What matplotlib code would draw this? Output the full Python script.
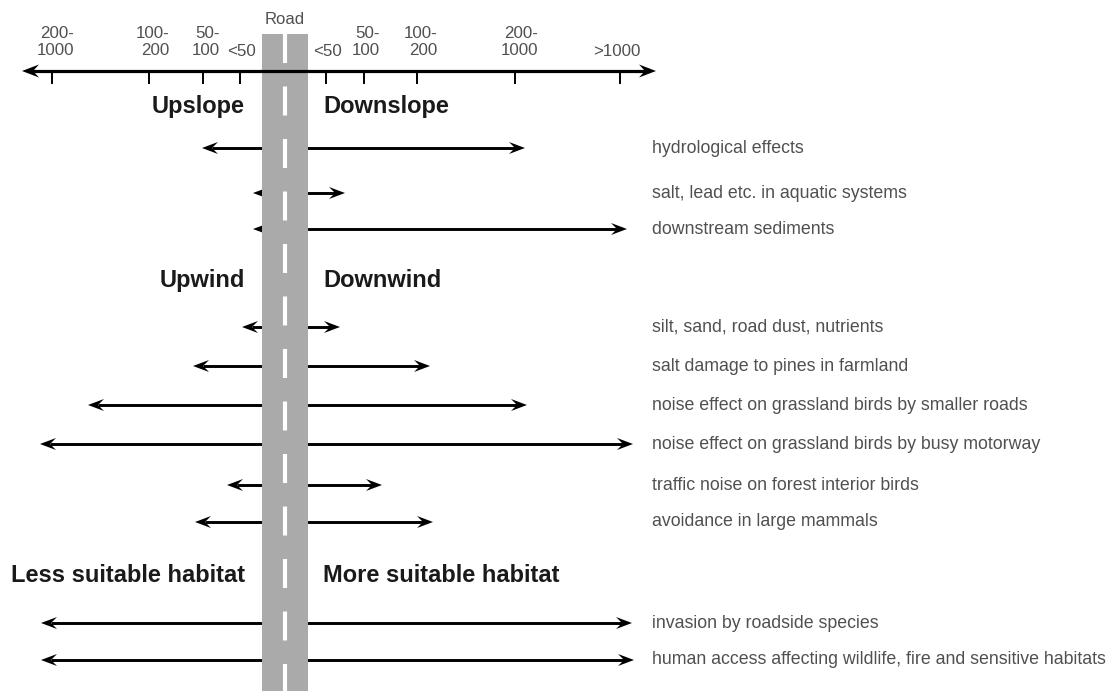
import matplotlib
matplotlib.use("Agg")
import matplotlib.pyplot as plt
from matplotlib.patches import Polygon, Rectangle

plt.rcParams['font.family'] = ['Liberation Sans', 'DejaVu Sans']

# distance scale (drawing units = output pixels)
tick_labels = ["200-\n1000", "100-\n200", "50-\n100", "<50",
               "<50", "50-\n100", "100-\n200", "200-\n1000", ">1000"]
tick_x = [52, 149, 203, 240, 326, 364, 417, 515, 620]
tick_label_x = [55, 153, 206, 242, 328, 366, 421, 519, 617]

# effects and their reach away from the road (x of arrow tips)
effects = [
    "hydrological effects",
    "salt, lead etc. in aquatic systems",
    "downstream sediments",
    "silt, sand, road dust, nutrients",
    "salt damage to pines in farmland",
    "noise effect on grassland birds by smaller roads",
    "noise effect on grassland birds by busy motorway",
    "traffic noise on forest interior birds",
    "avoidance in large mammals",
    "invasion by roadside species",
    "human access affecting wildlife, fire and sensitive habitats",
]
left_reach = [202, 253, 253, 242, 193, 88, 40, 227, 195, 41, 41]
right_reach = [525, 345, 627, 340, 430, 527, 633, 382, 433, 632, 634]

left_headings = ["Upslope", "Upwind", "Less suitable habitat"]
right_headings = ["Downslope", "Downwind", "More suitable habitat"]

# layout
row_y = [148, 193, 229, 327, 366, 405, 444, 485, 522, 623, 660]
heading_y = [106, 280, 575]
road_left, road_right, road_top = 262, 308, 34
road_mid = (road_left + road_right) / 2
axis_y = 71

fig = plt.figure(figsize=(11.16, 6.91), dpi=100)
ax = fig.add_axes([0, 0, 1, 1])
ax.set_xlim(0, 1116)
ax.set_ylim(691, 0)
ax.axis('off')


def head(x_tip, y, direction, length=16, half=6, notch=10, z=3):
    pts = [(x_tip, y),
           (x_tip - direction * length, y - half),
           (x_tip - direction * notch, y),
           (x_tip - direction * length, y + half)]
    ax.add_patch(Polygon(pts, closed=True, color='black', lw=0, zorder=z))


# road
ax.add_patch(Rectangle((road_left, road_top), road_right - road_left, 691 - road_top,
                       color='#aaaaaa', lw=0, zorder=4))
ax.plot([road_mid, road_mid], [road_top, 691], color='white', lw=3.0,
        dashes=(29 / 3.0 * 0.72, 23.5 / 3.0 * 0.72), solid_capstyle='butt', zorder=5)

# distance axis
ax.plot([30, 647], [axis_y, axis_y], color='black', lw=2.3, solid_capstyle='butt', zorder=6)
head(22, axis_y, -1, length=17, half=6.5, notch=11, z=6)
head(656, axis_y, 1, length=17, half=6.5, notch=11, z=6)
for tx in tick_x:
    ax.plot([tx, tx], [axis_y, axis_y + 12], color='black', lw=1.4, zorder=6)
for lx, lab in zip(tick_label_x, tick_labels):
    yy = 42 if "\n" in lab else 51
    ax.text(lx, yy, lab, ha='center', va='center', multialignment='right',
            fontsize=12.2, color='#505050', linespacing=1.15, zorder=7)
ax.text(road_mid, 19, "Road", ha='center', va='center', fontsize=12,
        color='#505050', zorder=7)

# effect arrows
for lab, y, xl, xr in zip(effects, row_y, left_reach, right_reach):
    ax.plot([xl + 10, road_mid], [y, y], color='black', lw=2.1, solid_capstyle='butt', zorder=2)
    ax.plot([road_mid, xr - 10], [y, y], color='black', lw=2.1, solid_capstyle='butt', zorder=2)
    head(xl, y, -1)
    head(xr, y, 1)
    ax.text(652, y, lab, ha='left', va='center', fontsize=12.8, color='#505050')

# side headings
for y, lt, rt in zip(heading_y, left_headings, right_headings):
    ax.text(245, y, lt, ha='right', va='center', fontsize=17,
            fontweight='bold', color='#1a1a1a')
    ax.text(323, y, rt, ha='left', va='center', fontsize=17,
            fontweight='bold', color='#1a1a1a')

plt.savefig("out.png", dpi=100)
